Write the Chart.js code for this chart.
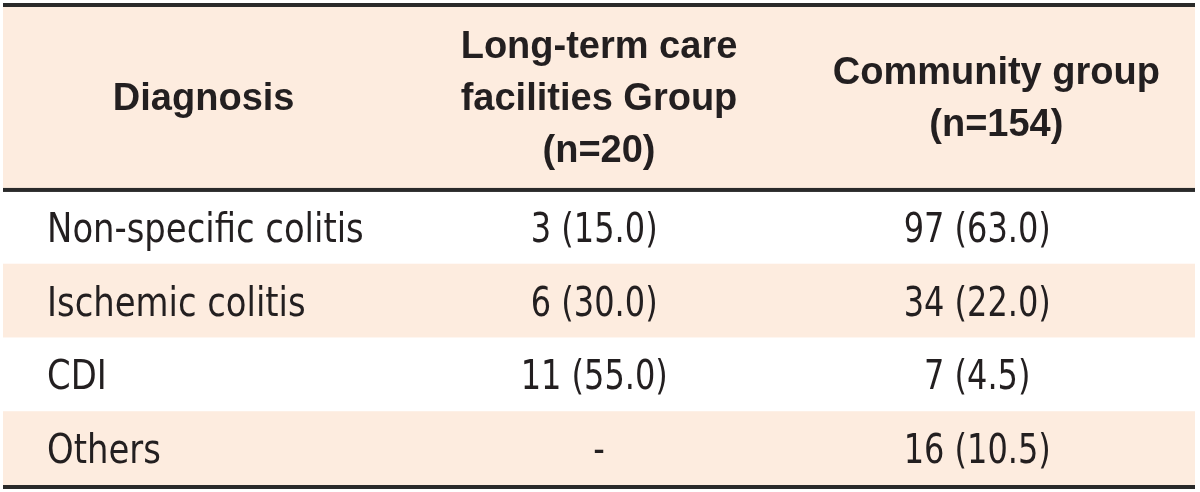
<!DOCTYPE html>
<html>
<head>
<meta charset="utf-8">
<script src="https://cdn.jsdelivr.net/npm/chart.js@4.4.1/dist/chart.umd.min.js"></script>
<style>
  html, body { margin: 0; padding: 0; background: #fff; }
  #wrap { width: 1200px; height: 492px; }
</style>
</head>
<body>
<div id="wrap"><canvas id="table-chart" width="1200" height="492"></canvas></div>
<script>
// ── Table data ─────────────────────────────────────────────
const headerDiagnosis = ['Diagnosis'];
const headerLtcf = ['Long-term care', 'facilities Group', '(n=20)'];
const headerCommunity = ['Community group', '(n=154)'];

const diagnoses = ['Non-specific colitis', 'Ischemic colitis', 'CDI', 'Others'];
const ltcfCount = [3, 6, 11, null];
const ltcfPct = [15.0, 30.0, 55.0, null];
const communityCount = [97, 34, 7, 16];
const communityPct = [63.0, 22.0, 4.5, 10.5];

// ── Layout (scale units) ───────────────────────────────────
const HEADER_H = 2.48;           // header height in row units
const TOTAL_H = HEADER_H + diagnoses.length;
const PEACH = '#fdecdf';
const INK = '#231f20';
const RULE = '#2a2a2a';

function cell(n, p) {
    return n == null ? '-' : `${n} (${p.toFixed(1)})`;
}

// condensed text: squeeze to a fraction of its natural width
function narrowText(ctx, txt, px, py, k) {
    const w = ctx.measureText(txt).width;
    ctx.fillText(txt, px, py, w * k);
}

const tablePlugin = {
    id: 'tablePlugin',
    beforeDatasetsDraw(chart) {
        const { ctx, scales: { x, y } } = chart;
        const left = x.getPixelForValue(0);
        const right = x.getPixelForValue(3);
        const w = right - left;

        // backgrounds
        ctx.save();
        ctx.fillStyle = PEACH;
        const hTop = y.getPixelForValue(0), hBot = y.getPixelForValue(HEADER_H);
        ctx.fillRect(left, hTop, w, hBot - hTop);
        diagnoses.forEach((_, i) => {
            if (i % 2 === 1) {
                const t = y.getPixelForValue(HEADER_H + i);
                const b = y.getPixelForValue(HEADER_H + i + 1);
                ctx.fillRect(left, t, w, b - t);
            }
        });

        // rules
        ctx.fillStyle = RULE;
        ctx.fillRect(left, hTop - 4, w, 4);
        ctx.fillRect(left, hBot - 2, w, 4);
        ctx.fillRect(left, y.getPixelForValue(TOTAL_H), w, 4);

        // header text
        ctx.fillStyle = INK;
        ctx.font = 'bold 38px "Liberation Sans", Arial, sans-serif';
        ctx.textAlign = 'center';
        ctx.textBaseline = 'alphabetic';
        const hMid = (hTop + hBot) / 2;
        [headerDiagnosis, headerLtcf, headerCommunity].forEach((lines, c) => {
            const cx = c === 0 ? x.getPixelForValue(0.505) : x.getPixelForValue(c + 0.5);
            lines.forEach((line, i) => {
                const by = hMid + 12 + (i - (lines.length - 1) / 2) * 52;
                ctx.fillText(line, cx, by);
            });
        });

        // body text
        ctx.font = '40px "Liberation Sans Narrow", "DejaVu Sans Condensed", sans-serif';
        diagnoses.forEach((d, i) => {
            const mid = y.getPixelForValue(HEADER_H + i + 0.5);
            const by = mid + 15;
            ctx.textAlign = 'left';
            narrowText(ctx, d, x.getPixelForValue(0.111), by, 0.94);
            ctx.textAlign = 'center';
            narrowText(ctx, cell(ltcfCount[i], ltcfPct[i]), x.getPixelForValue(ltcfCount[i] == null ? 1.5 : 1.488), by, 0.89);
            narrowText(ctx, cell(communityCount[i], communityPct[i]), x.getPixelForValue(2.452), by, 0.89);
        });
        ctx.restore();
    }
};

new Chart(document.getElementById('table-chart'), {
    type: 'scatter',
    data: { datasets: [{ data: [], pointRadius: 0 }] },
    options: {
        responsive: false,
        animation: false,
        events: [],
        layout: { padding: { left: 3, right: 5, top: 7, bottom: 7 } },
        plugins: { legend: { display: false }, tooltip: { enabled: false } },
        scales: {
            x: { type: 'linear', min: 0, max: 3, display: false },
            y: { type: 'linear', min: 0, max: TOTAL_H, reverse: true, display: false }
        }
    },
    plugins: [tablePlugin]
});
</script>
</body>
</html>
